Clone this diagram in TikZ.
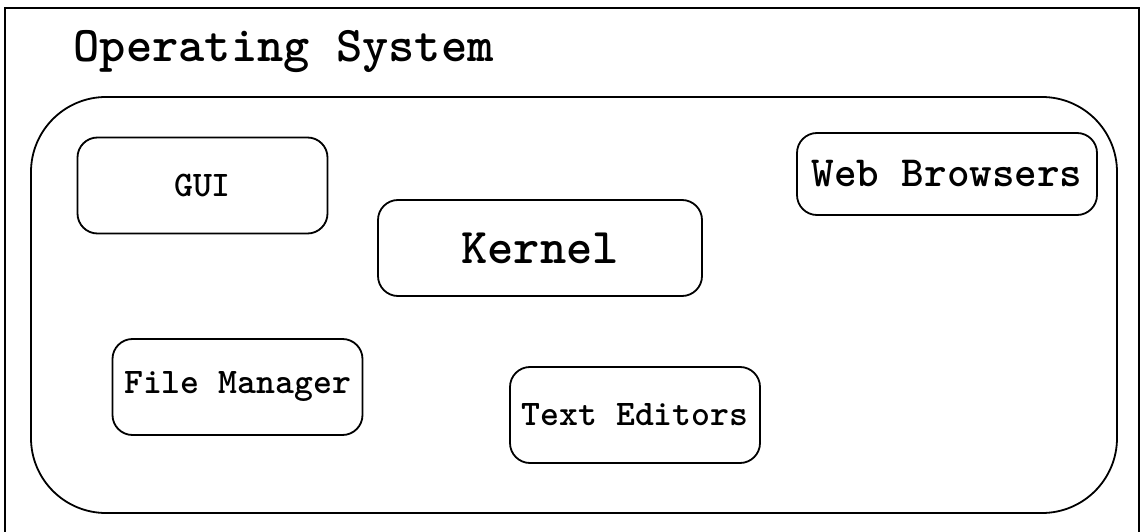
\documentclass[tikz,border=0pt]{standalone}
\usepackage{fontspec}
\begin{document}
\begin{tikzpicture}[x=1pt,y=-1pt]
  \tikzset{AppStyle/.style = {draw,
                              rounded corners = 20pt,
                              line width      = 1.8pt,
                              font            = \ttfamily\bfseries\fontsize{36}{40}\selectfont,
                              minimum width   = 250pt,
                              minimum height  = 96pt}}
  \tikzset{ShellStyle/.style = {draw,
                              rounded corners = 75pt,
                              line width      = 1.8pt,
                              minimum width   = 1086pt,
                              minimum height  = 416pt}}
%                              fill           = white}}

\useasboundingbox (0,0) rectangle (1141,532);
\draw[line width=2pt] (5,532) -- (5,8) -- (1139,8) -- (1139,532);

\node[anchor=base west, font=\ttfamily\bfseries\fontsize{50}{54}\selectfont] (title) at (70,62) {Operating System};
\node[ShellStyle] (os) at (574,305) {};

\node[AppStyle] (gui) at (202.5,185.5) {GUI};
\node[AppStyle, minimum width=324pt, font=\ttfamily\bfseries\fontsize{50}{54}\selectfont] (kernel) at (540,248) {Kernel};
\node[AppStyle, minimum width=300pt, minimum height=82pt, font=\ttfamily\bfseries\fontsize{43}{46}\selectfont] (web) at (947,174) {Web Browsers};
\node[AppStyle] (files) at (237.5,387) {File Manager};
\node[AppStyle] (editors) at (635,415) {Text Editors};
\end{tikzpicture}
\end{document}
